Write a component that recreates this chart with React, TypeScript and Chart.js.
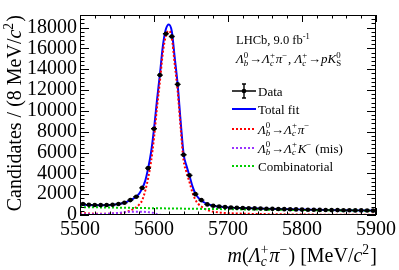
import { useEffect, useRef } from 'react';
import { Chart, registerables } from 'chart.js';
Chart.register(...registerables);

// ---- data ----
const binCenters = [
  5504, 5512, 5520, 5528, 5536, 5544, 5552, 5560, 5568, 5576,
  5584, 5592, 5600, 5608, 5616, 5624, 5632, 5640, 5648, 5656,
  5664, 5672, 5680, 5688, 5696, 5704, 5712, 5720, 5728, 5736,
  5744, 5752, 5760, 5768, 5776, 5784, 5792, 5800, 5808, 5816,
  5824, 5832, 5840, 5848, 5856, 5864, 5872, 5880, 5888, 5896,
];
const dataCounts = [
  1050, 990, 960, 950, 960, 990, 1060, 1180, 1430, 1750,
  2600, 4500, 8280, 13430, 17400, 17140, 12540, 5780, 3800, 2000,
  1430, 1020, 890, 820, 760, 720, 690, 670, 650, 640,
  620, 600, 590, 580, 560, 550, 540, 520, 510, 500,
  490, 480, 470, 470, 460, 450, 440, 440, 430, 420,
];

const fitMass = [
  5500, 5510, 5520, 5530, 5540, 5550, 5556, 5562, 5568, 5574,
  5580, 5584, 5588, 5592, 5596, 5600, 5604, 5608, 5612, 5616,
  5620, 5624, 5628, 5632, 5636, 5640, 5644, 5648, 5652, 5656,
  5660, 5664, 5668, 5672, 5680, 5690, 5700, 5720, 5750, 5800,
  5850, 5900,
];
const totalFit = [
  1000, 970, 945, 945, 970, 1040, 1110, 1230, 1420, 1650,
  2050, 2550, 3250, 4450, 6000, 8250, 11000, 13500, 16230, 17830,
  18300, 17650, 15100, 12500, 8980, 5850, 4700, 3750, 2750, 2050,
  1650, 1400, 1200, 1060, 890, 790, 730, 665, 600, 520,
  465, 425,
];
const signalFit = [
  180, 152, 130, 125, 130, 150, 190, 275, 440, 660,
  1000, 1400, 2290, 3510, 5115, 7400, 10270, 12840, 15590, 17190,
  17670, 17020, 14475, 11880, 8364, 5238, 4092, 3146, 2150, 1454,
  1058, 812, 616, 480, 318, 226, 175, 125, 85, 45,
  25, 20,
];
const misMass = [5500, 5520, 5540, 5550, 5560, 5570, 5580, 5590, 5596, 5600, 5604, 5608, 5612, 5900];
const misFit = [60, 80, 130, 190, 270, 310, 320, 290, 230, 200, 80, 15, 0, 0];
const combMass = [5500, 5600, 5700, 5800, 5900];
const combFit = [760, 650, 555, 475, 405];

const yTickLabels = [0, 2000, 4000, 6000, 8000, 10000, 12000, 14000, 16000, 18000];
const xTickLabels = [5500, 5600, 5700, 5800, 5900];
const xTickStep = 100;
const yTickStep = 2000;

type Seg = { t?: string; i?: boolean; sup?: string; sub?: string; subI?: boolean; supI?: boolean };

const xTitle: Seg[] = [
  { t: 'm', i: true }, { t: '(' }, { t: 'Λ', i: true }, { sub: 'c', subI: true, sup: '+' },
  { t: 'π', i: true }, { sup: '−' }, { t: ') [MeV/' }, { t: 'c', i: true }, { sup: '2' }, { t: ']' },
];
const yTitle: Seg[] = [{ t: 'Candidates / (8 MeV/' }, { t: 'c', i: true }, { sup: '2' }, { t: ')' }];
const lumiText: Seg[] = [{ t: 'LHCb, 9.0 fb' }, { sup: '-1' }];
const decayText: Seg[] = [
  { t: 'Λ', i: true }, { sub: 'b', subI: true, sup: '0' }, { t: '→' }, { t: 'Λ', i: true },
  { sub: 'c', subI: true, sup: '+' }, { t: 'π', i: true }, { sup: '−' }, { t: ', ' },
  { t: 'Λ', i: true }, { sub: 'c', subI: true, sup: '+' }, { t: '→' }, { t: 'p', i: true },
  { t: 'K', i: true }, { sub: 'S', sup: '0' },
];
const legendLabels: Seg[][] = [
  [{ t: 'Data' }],
  [{ t: 'Total fit' }],
  [{ t: 'Λ', i: true }, { sub: 'b', subI: true, sup: '0' }, { t: '→' }, { t: 'Λ', i: true }, { sub: 'c', subI: true, sup: '+' }, { t: 'π', i: true }, { sup: '−' }],
  [{ t: 'Λ', i: true }, { sub: 'b', subI: true, sup: '0' }, { t: '→' }, { t: 'Λ', i: true }, { sub: 'c', subI: true, sup: '+' }, { t: 'K', i: true }, { sup: '−' }, { t: ' (mis)' }],
  [{ t: 'Combinatorial' }],
];

const COL_TOTAL = '#0000ff';
const COL_SIG = '#ff0000';
const COL_MIS = '#9933ff';
const COL_COMB = '#00cc00';
const FONT = '"Liberation Serif", "Times New Roman", serif';

function fnt(size: number, italic?: boolean) {
  return `${italic ? 'italic ' : ''}${size}px ${FONT}`;
}
function segW(ctx: CanvasRenderingContext2D, s: Seg, size: number) {
  if (s.t !== undefined) { ctx.font = fnt(size, s.i); return ctx.measureText(s.t).width; }
  const ss = size * 0.68;
  let w = 0;
  if (s.sup) { ctx.font = fnt(ss, s.supI); w = Math.max(w, ctx.measureText(s.sup).width); }
  if (s.sub) { ctx.font = fnt(ss, s.subI); w = Math.max(w, ctx.measureText(s.sub).width); }
  return w + size * 0.06;
}
function drawRich(ctx: CanvasRenderingContext2D, segs: Seg[], x: number, y: number, size: number, align: 'left' | 'right') {
  const total = segs.reduce((a, s) => a + segW(ctx, s, size), 0);
  let cx = align === 'right' ? x - total : x;
  ctx.textAlign = 'left';
  ctx.textBaseline = 'alphabetic';
  for (const s of segs) {
    const w = segW(ctx, s, size);
    if (s.t !== undefined) {
      ctx.font = fnt(size, s.i);
      ctx.fillText(s.t, cx, y);
    } else {
      const ss = size * 0.68;
      if (s.sup) { ctx.font = fnt(ss, s.supI); ctx.fillText(s.sup, cx, y - size * 0.42); }
      if (s.sub) { ctx.font = fnt(ss, s.subI); ctx.fillText(s.sub, cx, y + size * 0.22); }
    }
    cx += w;
  }
}

const decorPlugin = {
  id: 'decor',
  afterDatasetsDraw(chart: any) {
    const { ctx, scales } = chart;
    const xs = scales.x, ys = scales.y;
    ctx.save();
    ctx.strokeStyle = '#000';
    ctx.lineWidth = 1.4;
    ctx.beginPath();
    for (let i = 0; i < binCenters.length; i++) {
      const px = xs.getPixelForValue(binCenters[i]);
      const py = ys.getPixelForValue(dataCounts[i]);
      const e = Math.sqrt(dataCounts[i]);
      ctx.moveTo(xs.getPixelForValue(binCenters[i] - 4), py);
      ctx.lineTo(xs.getPixelForValue(binCenters[i] + 4), py);
      ctx.moveTo(px, ys.getPixelForValue(dataCounts[i] + e) - 0.5);
      ctx.lineTo(px, ys.getPixelForValue(dataCounts[i] - e) + 0.5);
    }
    ctx.stroke();
    ctx.restore();
  },
  afterDraw(chart: any) {
    const { ctx, chartArea, scales } = chart;
    const { left, right, top, bottom } = chartArea;
    const xs = scales.x, ys = scales.y;
    ctx.save();
    ctx.strokeStyle = '#000';
    ctx.fillStyle = '#000';
    ctx.lineWidth = 1;
    ctx.strokeRect(Math.round(left) + 0.5, Math.round(top) + 0.5, Math.round(right - left) - 1, Math.round(bottom - top) - 1);
    ctx.beginPath();
    for (let v = xs.min; v <= xs.max + 0.01; v += xTickStep / 5) {
      const major = Math.abs((v - xs.min) % xTickStep) < 0.01;
      const L = major ? 7 : 3.5;
      const px = Math.round(xs.getPixelForValue(v)) + 0.5;
      ctx.moveTo(px, bottom); ctx.lineTo(px, bottom - L);
      ctx.moveTo(px, top); ctx.lineTo(px, top + L);
    }
    for (let v = 0; v <= ys.max + 0.01; v += yTickStep / 5) {
      const major = Math.abs(v % yTickStep) < 0.01;
      const L = major ? 9 : 4.5;
      const py = Math.round(ys.getPixelForValue(v)) + 0.5;
      ctx.moveTo(left, py); ctx.lineTo(left + L, py);
      ctx.moveTo(right, py); ctx.lineTo(right - L, py);
    }
    ctx.stroke();

    // axis titles
    drawRich(ctx, xTitle, right + 1, 262, 20, 'right');
    ctx.save();
    ctx.translate(21, top);
    ctx.rotate(-Math.PI / 2);
    drawRich(ctx, yTitle, 0, 0, 20, 'right');
    ctx.restore();

    // annotations
    drawRich(ctx, lumiText, 236, 44, 12.5, 'left');
    drawRich(ctx, decayText, 236, 63, 13, 'left');

    // legend
    const rows = [91, 109, 129, 148, 166];
    const x0 = 232, x1 = 256, tx = 258;
    ctx.lineWidth = 1.4;
    ctx.setLineDash([]);
    ctx.beginPath();
    ctx.moveTo(x0, rows[0]); ctx.lineTo(x1, rows[0]);
    const cxm = (x0 + x1) / 2;
    ctx.moveTo(cxm, rows[0] - 7); ctx.lineTo(cxm, rows[0] + 7);
    ctx.moveTo(cxm - 2, rows[0] - 7); ctx.lineTo(cxm + 2, rows[0] - 7);
    ctx.moveTo(cxm - 2, rows[0] + 7); ctx.lineTo(cxm + 2, rows[0] + 7);
    ctx.stroke();
    ctx.beginPath(); ctx.arc(cxm, rows[0], 2.3, 0, Math.PI * 2); ctx.fill();
    const lineStyles: [string, number[]][] = [[COL_TOTAL, []], [COL_SIG, [2, 2]], [COL_MIS, [2, 2]], [COL_COMB, [2, 2]]];
    lineStyles.forEach(([c, d], k) => {
      ctx.strokeStyle = c; ctx.lineWidth = 2; ctx.setLineDash(d);
      ctx.beginPath(); ctx.moveTo(x0, rows[k + 1]); ctx.lineTo(x1, rows[k + 1]); ctx.stroke();
    });
    ctx.setLineDash([]);
    ctx.fillStyle = '#000';
    legendLabels.forEach((segs, k) => drawRich(ctx, segs, tx, rows[k] + 4.5, 13, 'left'));
    ctx.restore();
  },
};

export default function App() {
  const ref = useRef<HTMLCanvasElement | null>(null);
  useEffect(() => {
    if (!ref.current) return;
    const pts = (xs: number[], ys: number[]) => xs.map((x, i) => ({ x, y: ys[i] }));
    const curve = (label: string, xs: number[], ys: number[], color: string, dash: number[], order: number) => ({
      type: 'line' as const,
      label,
      data: pts(xs, ys),
      borderColor: color,
      borderWidth: 2,
      borderDash: dash,
      pointRadius: 0,
      fill: false,
      showLine: true,
      cubicInterpolationMode: 'monotone' as const,
      order,
    });
    const tickFont = { family: FONT, size: 20 };
    const chart = new Chart(ref.current, {
      type: 'scatter',
      data: {
        datasets: [
          {
            label: 'Data',
            data: pts(binCenters, dataCounts),
            pointRadius: 2.3,
            pointBackgroundColor: '#000',
            pointBorderWidth: 0,
            showLine: false,
            order: 0,
          } as any,
          curve('Combinatorial', combMass, combFit, COL_COMB, [2, 2], 1),
          curve('Mis-ID', misMass, misFit, COL_MIS, [2, 2], 2),
          curve('Signal', fitMass, signalFit, COL_SIG, [2, 2], 3),
          curve('Total fit', fitMass, totalFit, COL_TOTAL, [], 4),
        ],
      },
      options: {
        animation: false,
        responsive: false,
        maintainAspectRatio: false,
        layout: { padding: { left: 0, right: 20, top: 13, bottom: 0 } },
        plugins: { legend: { display: false }, tooltip: { enabled: false } },
        scales: {
          x: {
            type: 'linear',
            min: 5500,
            max: 5900,
            grid: { display: false, drawTicks: false },
            border: { display: false },
            afterBuildTicks: (s: any) => { s.ticks = xTickLabels.map((v) => ({ value: v })); },
            ticks: {
              callback: (v: any) => String(v),
              font: tickFont,
              color: '#000',
              padding: 3,
              maxRotation: 0,
              autoSkip: false,
            },
            afterFit: (s: any) => { s.height = 55; },
          },
          y: {
            type: 'linear',
            min: 0,
            max: 19200,
            grid: { display: false, drawTicks: false },
            border: { display: false },
            afterBuildTicks: (s: any) => { s.ticks = yTickLabels.map((v) => ({ value: v })); },
            ticks: {
              callback: (v: any) => String(v),
              font: tickFont,
              color: '#000',
              padding: 3,
              autoSkip: false,
            },
            afterFit: (s: any) => { s.width = 80; },
          },
        },
      } as any,
      plugins: [decorPlugin],
    });
    return () => chart.destroy();
  }, []);
  return (
    <div style={{ position: 'absolute', left: 0, top: 0, width: 399, height: 270, background: '#fff' }}>
      <canvas ref={ref} width={399} height={270} style={{ width: 399, height: 270, display: 'block' }} />
    </div>
  );
}
